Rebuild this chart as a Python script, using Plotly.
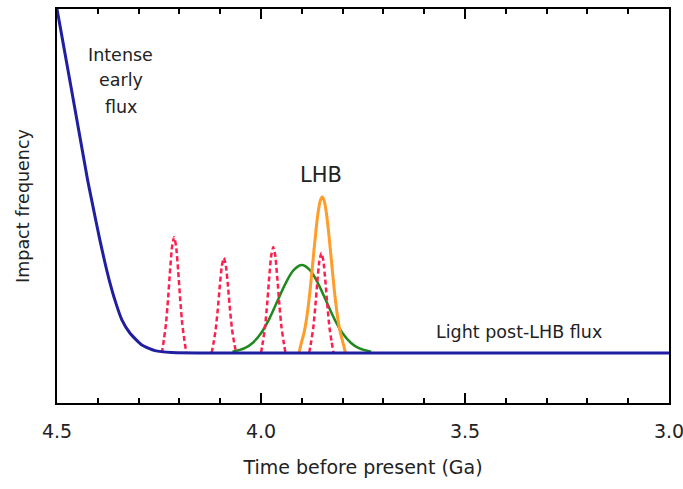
import plotly.graph_objects as go

# ---- data ----
early_x = [4.500, 4.463, 4.425, 4.415, 4.405, 4.395, 4.384, 4.372, 4.358, 4.341, 4.321, 4.292, 4.260, 4.219, 4.150, 3.0]
early_y = [1.000, 0.787, 0.566, 0.515, 0.464, 0.414, 0.363, 0.312, 0.261, 0.211, 0.177, 0.147, 0.133, 0.128, 0.127, 0.127]

green_x = [4.07, 4.04, 4.02, 4.00, 3.98, 3.96, 3.94, 3.92, 3.90, 3.88, 3.86, 3.84, 3.82, 3.80, 3.78, 3.76, 3.73]
green_y = [0.130, 0.139, 0.153, 0.177, 0.213, 0.258, 0.303, 0.337, 0.350, 0.337, 0.303, 0.258, 0.213, 0.177, 0.153, 0.139, 0.130]

lhb_x = [3.907, 3.900, 3.895, 3.890, 3.885, 3.880, 3.875, 3.870, 3.865, 3.860, 3.855, 3.850,
         3.845, 3.840, 3.835, 3.830, 3.825, 3.820, 3.815, 3.810, 3.805, 3.800, 3.793]
lhb_y = [0.127, 0.157, 0.176, 0.203, 0.239, 0.283, 0.335, 0.389, 0.441, 0.484, 0.513, 0.523,
         0.513, 0.484, 0.441, 0.389, 0.335, 0.283, 0.239, 0.203, 0.176, 0.157, 0.127]

spike1_x = [4.243, 4.238, 4.233, 4.228, 4.223, 4.218, 4.213, 4.208, 4.203, 4.198, 4.193, 4.188, 4.183]
spike1_y = [0.127, 0.161, 0.200, 0.262, 0.335, 0.397, 0.421, 0.397, 0.335, 0.262, 0.200, 0.161, 0.127]
spike2_x = [4.121, 4.116, 4.111, 4.106, 4.101, 4.096, 4.091, 4.086, 4.081, 4.076, 4.071, 4.066, 4.061]
spike2_y = [0.127, 0.154, 0.187, 0.237, 0.297, 0.348, 0.368, 0.348, 0.297, 0.237, 0.187, 0.154, 0.127]
spike3_x = [4.000, 3.995, 3.990, 3.985, 3.980, 3.975, 3.970, 3.965, 3.960, 3.955, 3.950, 3.945, 3.940]
spike3_y = [0.127, 0.158, 0.194, 0.250, 0.317, 0.374, 0.396, 0.374, 0.317, 0.250, 0.194, 0.158, 0.127]
spike4_x = [3.882, 3.877, 3.872, 3.867, 3.862, 3.857, 3.852, 3.847, 3.842, 3.837, 3.832, 3.827, 3.822]
spike4_y = [0.127, 0.156, 0.190, 0.243, 0.307, 0.360, 0.381, 0.360, 0.307, 0.243, 0.190, 0.156, 0.127]

major_ticks = [4.5, 4.0, 3.5, 3.0]
major_labels = ["4.5", "4.0", "3.5", "3.0"]

early_label_lines = ["Intense", "early", "flux"]
early_label_x = 4.344
early_label_y = [0.883, 0.820, 0.751]

FONT = "DejaVu Sans"
TXT = "#222222"

fig = go.Figure()

fig.add_trace(go.Scatter(x=green_x, y=green_y, mode="lines",
                         line=dict(color="#1e8a1e", width=2.5, shape="spline"), showlegend=False))
for sx, sy in [(spike1_x, spike1_y), (spike2_x, spike2_y), (spike3_x, spike3_y), (spike4_x, spike4_y)]:
    fig.add_trace(go.Scatter(x=sx, y=sy, mode="lines",
                             line=dict(color="#ff1f4f", width=2.5, dash="5px,3px", shape="spline", smoothing=0.5),
                             showlegend=False))
fig.add_trace(go.Scatter(x=lhb_x, y=lhb_y, mode="lines",
                         line=dict(color="#ff9c2a", width=3, shape="spline", smoothing=0.5), showlegend=False))
fig.add_trace(go.Scatter(x=early_x, y=early_y, mode="lines",
                         line=dict(color="#1f1fa0", width=3, shape="spline", smoothing=0.5), showlegend=False))

for txt, yy in zip(early_label_lines, early_label_y):
    fig.add_annotation(x=early_label_x, y=yy, text=txt, showarrow=False,
                       font=dict(family=FONT, size=17.5, color=TXT))
fig.add_annotation(x=3.853, y=0.579, text="LHB", showarrow=False,
                   font=dict(family=FONT, size=21, color=TXT))
fig.add_annotation(x=3.368, y=0.180, text="Light post-LHB flux", showarrow=False,
                   font=dict(family=FONT, size=17.5, color=TXT))

fig.update_xaxes(range=[4.5, 3.0], showgrid=False, zeroline=False, automargin=False,
                 showline=True, linecolor="black", linewidth=2, mirror="allticks",
                 ticks="inside", ticklen=10, tickwidth=1.5, tickcolor="black",
                 tickvals=major_ticks, ticktext=major_labels, ticklabeloverflow="allow",
                 minor=dict(dtick=0.1, ticks="inside", ticklen=5, tickwidth=1.5, tickcolor="black"),
                 tickfont=dict(family=FONT, size=19, color=TXT),
                 ticklabelstandoff=10,
                 title=dict(text="Time before present (Ga)", font=dict(family=FONT, size=19, color=TXT), standoff=20))
fig.update_yaxes(range=[0, 1], showgrid=False, zeroline=False, automargin=False,
                 showline=True, linecolor="black", linewidth=2, mirror=True,
                 showticklabels=False, ticks="",
                 title=dict(text="Impact frequency", font=dict(family=FONT, size=17.5, color=TXT), standoff=21))

fig.update_layout(width=683, height=489, margin=dict(l=57, r=14, t=9, b=86),
                  plot_bgcolor="white", paper_bgcolor="white")

fig.write_html("out.html")
